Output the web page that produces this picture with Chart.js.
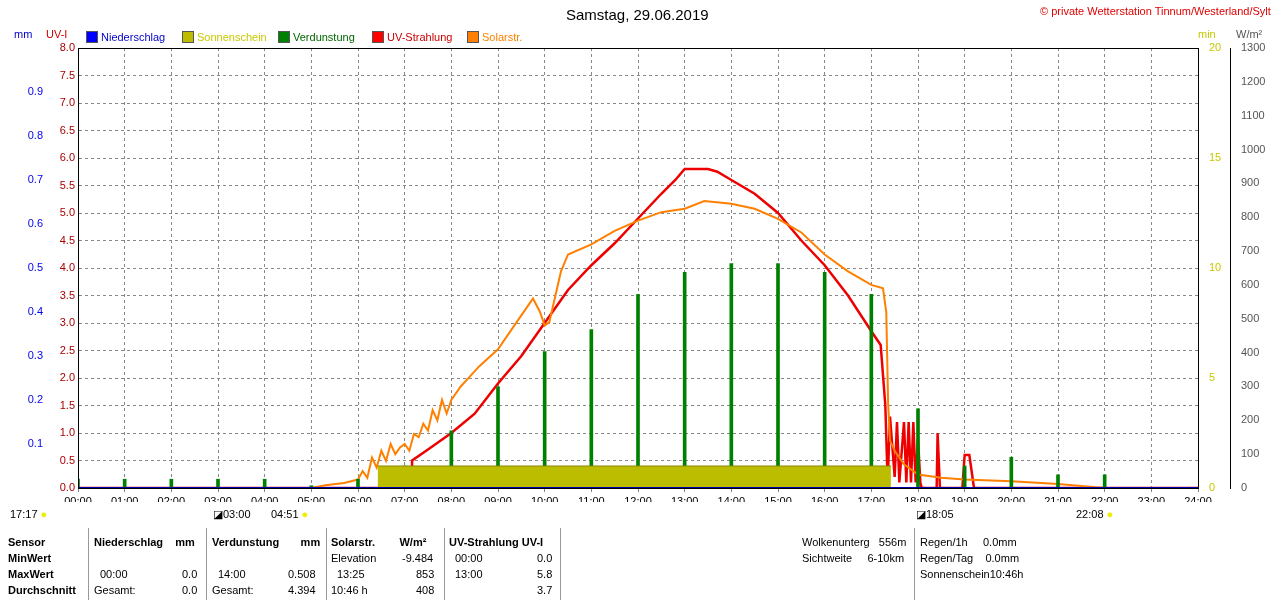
<!DOCTYPE html>
<html><head><meta charset="utf-8">
<script src="https://cdn.jsdelivr.net/npm/chart.js@4"></script>
<style>
body{margin:0;width:1280px;height:600px;background:#fff;font-family:"Liberation Sans",Arial,sans-serif;font-size:11px;position:relative;overflow:hidden}
#c{position:absolute;left:0;top:0}
.t{position:absolute;white-space:nowrap}
.b{font-weight:bold}
.sq{display:inline-block;width:10px;height:10px;border:1px solid #555;vertical-align:-2px;margin-right:3px}
.vl{position:absolute;top:528px;height:72px;border-left:1px solid #999}
</style></head><body>
<canvas id="c" width="1280" height="600"></canvas>
<div class="t" style="left:566px;top:6px;font-size:15px">Samstag, 29.06.2019</div>
<div class="t" style="left:1040px;top:5px;color:#e00000">© private Wetterstation Tinnum/Westerland/Sylt</div>
<div class="t" style="left:14px;top:28px;color:#0000cc">mm</div>
<div class="t" style="left:46px;top:28px;color:#cc0000">UV-I</div>
<div class="t" style="left:86px;top:31px;color:#0000cc"><span class="sq" style="background:#0000ff"></span>Niederschlag</div>
<div class="t" style="left:182px;top:31px;color:#c8c800"><span class="sq" style="background:#bcbc00"></span>Sonnenschein</div>
<div class="t" style="left:278px;top:31px;color:#006600"><span class="sq" style="background:#008000"></span>Verdunstung</div>
<div class="t" style="left:372px;top:31px;color:#cc0000"><span class="sq" style="background:#ff0000"></span>UV-Strahlung</div>
<div class="t" style="left:467px;top:31px;color:#ff8000"><span class="sq" style="background:#ff8000"></span>Solarstr.</div>
<div class="t" style="left:1198px;top:28px;color:#c8c800">min</div>
<div class="t" style="left:1236px;top:28px;color:#555">W/m²</div>

<div class="t" style="left:10px;top:508px">17:17 <span style="color:#ee0">●</span></div>
<div class="t" style="left:213px;top:508px">◪03:00</div>
<div class="t" style="left:271px;top:508px">04:51 <span style="color:#ee0">●</span></div>
<div class="t" style="left:916px;top:508px">◪18:05</div>
<div class="t" style="left:1076px;top:508px">22:08 <span style="color:#ee0">●</span></div>

<div class="vl" style="left:88px"></div><div class="vl" style="left:206px"></div><div class="vl" style="left:326px"></div><div class="vl" style="left:444px"></div><div class="vl" style="left:560px"></div><div class="vl" style="left:914px"></div>
<div class="t b" style="left:8px;top:536px">Sensor</div>
<div class="t b" style="left:8px;top:552px">MinWert</div>
<div class="t b" style="left:8px;top:568px">MaxWert</div>
<div class="t b" style="left:8px;top:584px">Durchschnitt</div>
<div class="t b" style="left:94px;top:536px">Niederschlag&nbsp;&nbsp;&nbsp;&nbsp;mm</div>
<div class="t" style="left:100px;top:568px">00:00</div><div class="t" style="left:182px;top:568px">0.0</div>
<div class="t" style="left:94px;top:584px">Gesamt:</div><div class="t" style="left:182px;top:584px">0.0</div>
<div class="t b" style="left:212px;top:536px">Verdunstung&nbsp;&nbsp;&nbsp;&nbsp;&nbsp;&nbsp;&nbsp;mm</div>
<div class="t" style="left:218px;top:568px">14:00</div><div class="t" style="left:288px;top:568px">0.508</div>
<div class="t" style="left:212px;top:584px">Gesamt:</div><div class="t" style="left:288px;top:584px">4.394</div>
<div class="t b" style="left:331px;top:536px">Solarstr.&nbsp;&nbsp;&nbsp;&nbsp;&nbsp;&nbsp;&nbsp;&nbsp;W/m²</div>
<div class="t" style="left:331px;top:552px">Elevation</div><div class="t" style="left:402px;top:552px">-9.484</div>
<div class="t" style="left:337px;top:568px">13:25</div><div class="t" style="left:416px;top:568px">853</div>
<div class="t" style="left:331px;top:584px">10:46 h</div><div class="t" style="left:416px;top:584px">408</div>
<div class="t b" style="left:449px;top:536px">UV-Strahlung UV-I</div>
<div class="t" style="left:455px;top:552px">00:00</div><div class="t" style="left:537px;top:552px">0.0</div>
<div class="t" style="left:455px;top:568px">13:00</div><div class="t" style="left:537px;top:568px">5.8</div>
<div class="t" style="left:537px;top:584px">3.7</div>
<div class="t" style="left:802px;top:536px">Wolkenunterg&nbsp;&nbsp;&nbsp;556m</div>
<div class="t" style="left:802px;top:552px">Sichtweite&nbsp;&nbsp;&nbsp;&nbsp;&nbsp;6-10km</div>
<div class="t" style="left:920px;top:536px">Regen/1h&nbsp;&nbsp;&nbsp;&nbsp;&nbsp;0.0mm</div>
<div class="t" style="left:920px;top:552px">Regen/Tag&nbsp;&nbsp;&nbsp;&nbsp;0.0mm</div>
<div class="t" style="left:920px;top:568px">Sonnenschein10:46h</div>
<script>
// Solarstrahlung W/m²
const solarTime = [0,5.0,5.3,5.7,6.0,6.1,6.2,6.3,6.4,6.5,6.6,6.7,6.8,6.9,7.0,7.1,7.2,7.3,7.4,7.5,7.6,7.7,7.8,7.9,8.0,8.2,8.4,8.6,9.0,9.3,9.6,9.75,9.9,10.0,10.1,10.2,10.35,10.5,11.0,11.5,12.0,12.5,13.0,13.42,14.0,14.5,15.0,15.5,16.0,16.5,17.0,17.25,17.32,17.36,17.4,17.5,17.7,18.0,18.5,19.0,20.0,21.0,21.5,22.0,24];
const solarVal  = [0,0,8,15,25,50,30,90,60,110,80,130,100,120,130,110,160,150,190,170,230,200,260,220,260,300,330,360,410,470,530,560,520,480,490,550,640,690,720,760,790,815,825,848,840,825,795,755,690,640,600,590,520,250,140,110,70,40,30,25,20,12,6,0,0];
// UV-Strahlung UV-I
const uvTime = [0,7.15,7.16,7.5,8.0,8.5,9.0,9.5,10.0,10.5,11.0,11.5,12.0,12.5,12.8,13.0,13.5,13.7,14.0,14.5,15.0,15.5,16.0,16.5,17.0,17.2,17.3,17.35,17.4,17.5,17.55,17.6,17.7,17.75,17.8,17.85,17.9,17.95,18.0,18.05,18.08,18.4,18.42,18.47,18.5,18.95,19.0,19.1,19.15,19.2,24];
const uvVal  = [0,0,0.5,0.7,1.0,1.35,1.9,2.4,3.0,3.6,4.05,4.45,4.9,5.35,5.6,5.8,5.8,5.75,5.6,5.35,5.0,4.5,4.05,3.5,2.85,2.6,1.5,0.1,1.3,0.2,1.2,0.1,1.2,0.1,1.2,0.1,1.2,0.1,0.9,0.1,0,0,1.0,0,0,0,0.6,0.6,0.3,0,0];
// Verdunstung mm (stündlich)
const evapHour = [0,1,2,3,4,5,6,7,8,9,10,11,12,13,14,15,16,17,18,19,20,21,22];
const evapVal  = [0.02,0.02,0.02,0.02,0.02,0.005,0.02,0.05,0.13,0.23,0.31,0.36,0.44,0.49,0.51,0.51,0.49,0.44,0.18,0.05,0.07,0.03,0.03];
// Sonnenschein min
const sunTime = [6.42,17.42];
const sunVal  = [1,1];
const hourLabels = Array.from({length:25},(_,i)=>String(i).padStart(2,'0')+':00');

const xy = (xs, ys) => xs.map((x,i)=>({x:x,y:ys[i]}));
const fixW = w => s => { s.width = w; };
const tf = {family:'Liberation Sans', size:11};

new Chart(document.getElementById('c'), {
  data: { datasets: [
    { type:'line', label:'Niederschlag', data:xy([0,24],[0,0]), yAxisID:'mm', borderColor:'#0000aa', borderWidth:2, pointRadius:0 },
    { type:'line', label:'Sonnenschein', data:xy(sunTime,sunVal), yAxisID:'min', borderColor:'#888800', borderWidth:1, backgroundColor:'#bcbc00', fill:'origin', pointRadius:0 },
    { type:'bar', label:'Verdunstung', data:xy(evapHour,evapVal), yAxisID:'mm', backgroundColor:'#008000', barThickness:3 },
    { type:'line', label:'Solarstr.', data:xy(solarTime,solarVal), yAxisID:'w', borderColor:'#ff8000', borderWidth:2, pointRadius:0, tension:0 },
    { type:'line', label:'UV-Strahlung', data:xy(uvTime,uvVal), yAxisID:'uv', borderColor:'#ee0000', borderWidth:2.5, pointRadius:0 }
  ]},
  options: {
    responsive:false, animation:false,
    layout:{ padding:{ top:48, bottom:98, left:0, right:0 } },
    plugins:{ legend:{display:false}, tooltip:{enabled:false} },
    scales:{
      x:{ type:'linear', min:0, max:24, offset:false, afterFit:s=>{s.height=14;},
          ticks:{ stepSize:1, color:'#000', font:tf, maxRotation:0, autoSkip:false, callback:v=>hourLabels[v] },
          grid:{ color:'#888', tickLength:4, offset:false }, border:{ color:'#000', dash:[3,3] } },
      uv:{ position:'left', min:0, max:8, afterFit:fixW(32),
          ticks:{ stepSize:0.5, color:'#aa0000', font:tf, callback:v=>v.toFixed(1) },
          grid:{ color:'#888', tickLength:0 }, border:{ color:'#000', dash:[3,3] } },
      mm:{ position:'left', min:0, max:1, afterFit:fixW(46),
          ticks:{ stepSize:0.1, color:'#0000ee', font:tf, callback:v=>(v>0&&v<0.95)?v.toFixed(1):'' },
          grid:{ display:false, drawTicks:false }, border:{ display:false } },
      min:{ position:'right', min:0, max:20, afterFit:fixW(32),
          ticks:{ stepSize:5, color:'#c8c800', font:tf },
          grid:{ display:false }, border:{ color:'#000' } },
      w:{ position:'right', min:0, max:1300, afterFit:fixW(50),
          ticks:{ stepSize:100, color:'#555', font:tf, callback:v=>String(v) },
          grid:{ display:false }, border:{ color:'#000' } }
    }
  },
  plugins:[{ id:'frame', afterDraw(ch){ const a=ch.chartArea, g=ch.ctx; g.save(); g.strokeStyle='#000'; g.lineWidth=1; g.setLineDash([]); g.strokeRect(a.left+0.5,a.top+0.5,a.width,a.height); g.restore(); } }]
});
</script>
</body></html>
